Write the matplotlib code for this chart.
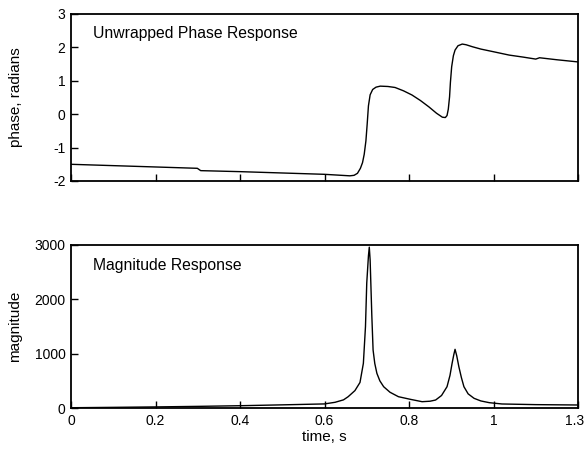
import matplotlib
matplotlib.use("Agg")
import matplotlib.pyplot as plt
import matplotlib.transforms as mtransforms

plt.rcParams['font.family'] = ['Liberation Sans', 'DejaVu Sans']

# Unwrapped phase (radians) vs time (s)
phase_t = [0.0, 0.10, 0.20, 0.299, 0.307, 0.40, 0.50, 0.60, 0.64, 0.660, 0.670,
           0.678, 0.685, 0.690, 0.694, 0.698, 0.701, 0.704, 0.708, 0.714, 0.722,
           0.732, 0.750, 0.767, 0.787, 0.807, 0.827, 0.847, 0.865, 0.879, 0.886,
           0.890, 0.893, 0.896, 0.898, 0.901, 0.905, 0.909, 0.916, 0.926, 0.935,
           0.950, 0.970, 1.00, 1.037, 1.07, 1.10, 1.109, 1.15, 1.204]
phase_v = [-1.50, -1.54, -1.58, -1.62, -1.69, -1.72, -1.76, -1.80, -1.83, -1.845, -1.83,
           -1.77, -1.62, -1.45, -1.20, -0.80, -0.30, 0.25, 0.58, 0.74, 0.81,
           0.84, 0.83, 0.80, 0.70, 0.575, 0.41, 0.22, 0.03, -0.09, -0.10,
           -0.04, 0.15, 0.52, 0.95, 1.42, 1.75, 1.92, 2.05, 2.10, 2.08,
           2.02, 1.95, 1.87, 1.77, 1.71, 1.65, 1.69, 1.63, 1.56]

# Magnitude response vs time (s)
mag_t = [0.0, 0.10, 0.20, 0.30, 0.40, 0.50, 0.60, 0.625, 0.645, 0.656, 0.672,
         0.684, 0.692, 0.697, 0.700, 0.704, 0.706, 0.708, 0.712, 0.715, 0.719,
         0.724, 0.731, 0.740, 0.755, 0.775, 0.803, 0.831, 0.850, 0.863, 0.877,
         0.890, 0.897, 0.902, 0.906, 0.909, 0.913, 0.918, 0.924, 0.930, 0.940,
         0.954, 0.970, 0.990, 1.02, 1.10, 1.204]
mag_v = [5, 12, 20, 30, 42, 58, 75, 105, 150, 208, 320,
         470, 822, 1500, 2300, 2800, 2960, 2724, 1700, 1067, 820,
         638, 500, 392, 290, 208, 160, 116, 125, 147, 230,
         392, 600, 822, 980, 1080, 960, 760, 560, 392, 260,
         178, 130, 98, 74, 62, 55]

x_ticks = [0, 0.2, 0.4, 0.6, 0.8, 1.0, 1.2]
x_tick_labels = ['0', '0.2', '0.4', '0.6', '0.8', '1', '1.3']
phase_yticks = [-2, -1, 0, 1, 2, 3]
mag_yticks = [0, 1000, 2000, 3000]

fig = plt.figure(figsize=(5.86, 4.49), dpi=100)
ax1 = fig.add_axes([71/586, 1-181/449, 507/586, 167/449])
ax2 = fig.add_axes([71/586, 1-408/449, 507/586, 163/449])

for ax in (ax1, ax2):
    for s in ax.spines.values():
        s.set_linewidth(1.3)
    ax.tick_params(direction='in', length=5, width=1, labelsize=10, pad=4)
    ax.set_xlim(0, 1.2)
    ax.set_xticks(x_ticks)

ax1.plot(phase_t, phase_v, color='black', lw=1.0)
ax1.set_ylim(-2, 3)
ax1.set_yticks(phase_yticks)
ax1.set_yticklabels([str(v) for v in phase_yticks])
ax1.set_xticklabels([])
ax1.set_ylabel('phase, radians', fontsize=11)
ax1.yaxis.set_label_coords(-0.095, 0.5)
ax1.text(0.043, 0.886, 'Unwrapped Phase Response', transform=ax1.transAxes,
         fontsize=11.3, va='center', ha='left')

ax2.plot(mag_t, mag_v, color='black', lw=1.0)
ax2.set_ylim(0, 3000)
ax2.set_yticks(mag_yticks)
ax2.set_yticklabels([str(v) for v in mag_yticks])
ax2.set_xticklabels(x_tick_labels)
ax2.set_ylabel('magnitude', fontsize=11)
ax2.yaxis.set_label_coords(-0.097, 0.5)
ax2.set_xlabel('time, s', fontsize=11, labelpad=2)
ax2.text(0.043, 0.877, 'Magnitude Response', transform=ax2.transAxes,
         fontsize=11.3, va='center', ha='left')

# nudge the last tick label slightly left so it stays inside the figure
last = ax2.get_xticklabels()[-1]
last.set_transform(last.get_transform() +
                   mtransforms.ScaledTranslation(-3/100, 0, fig.dpi_scale_trans))

fig.savefig('out.png', dpi=100)
